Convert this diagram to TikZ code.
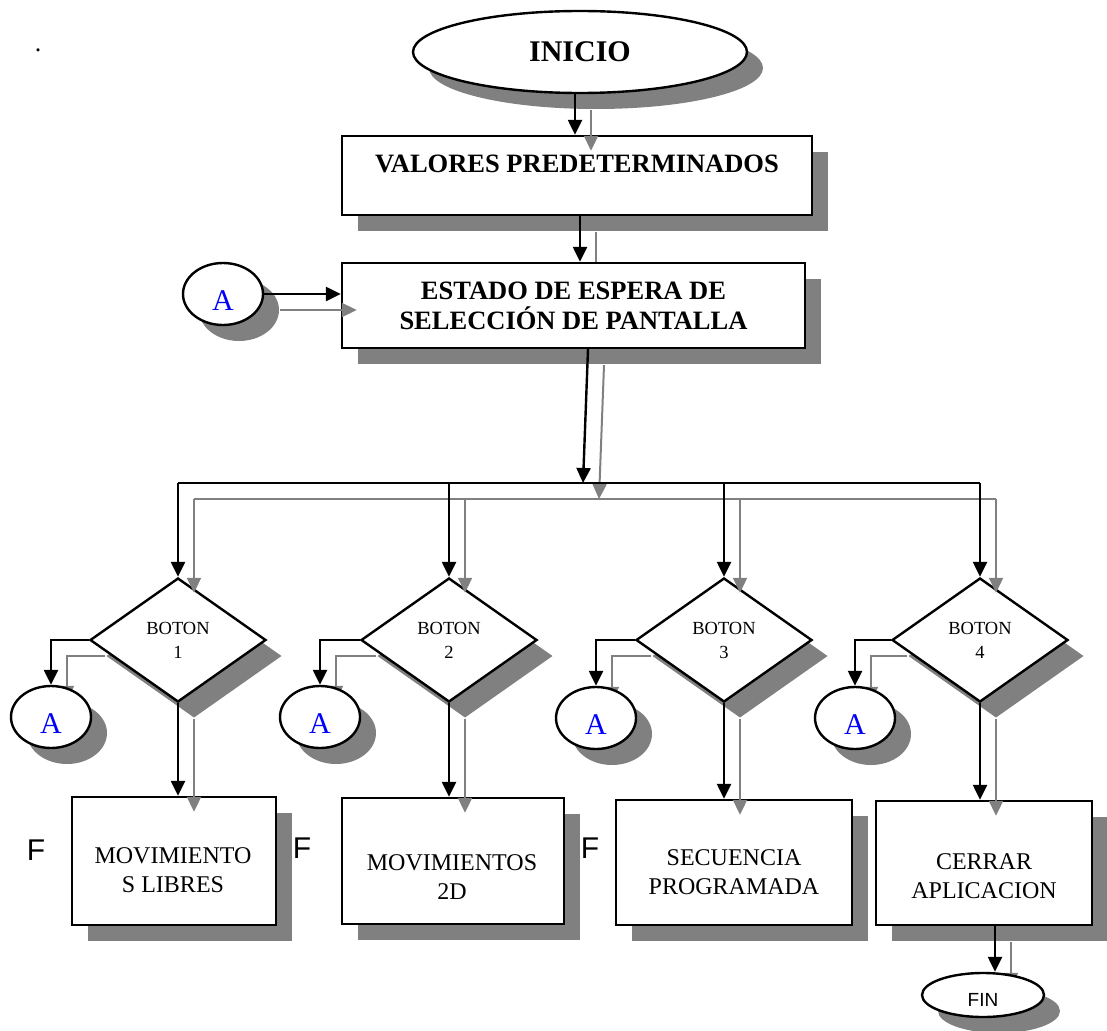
\documentclass[tikz,border=0pt]{standalone}
\usepackage{fontspec}
\setmainfont{Liberation Serif}
\newfontfamily\arialf{Liberation Sans}
\usetikzlibrary{shapes.geometric,shadows,arrows.meta,backgrounds}
\definecolor{shd}{RGB}{128,128,128}
\definecolor{ablue}{RGB}{0,0,255}
\tikzset{
  shad/.style={drop shadow={shadow xshift=16pt,shadow yshift=-16pt,fill=shd,opacity=1,draw=none}},
  shapebase/.style={draw=black,line width=2.4pt,fill=white,inner sep=0pt,shad},
  boxnode/.style={shapebase,rectangle},
  ovalnode/.style={shapebase,ellipse},
  decision/.style={shapebase,diamond,minimum width=176pt,minimum height=124pt,align=center,font=\fontsize{18.5}{24}\selectfont},
  conn/.style={ovalnode,minimum width=80pt,minimum height=62pt,text=ablue,font=\fontsize{30}{36}\selectfont,text height=32pt,text depth=0pt},
  blk/.style={draw=black,line width=2.4pt,-{Triangle[width=14pt,length=15pt]}},
  blkline/.style={draw=black,line width=2.4pt},
  gry/.style={draw=shd,line width=2pt,-{Triangle[width=14pt,length=15pt]},transform canvas={shift={(16pt,-16pt)}}},
  gryline/.style={draw=shd,line width=2pt,transform canvas={shift={(16pt,-16pt)}}},
  boxtext/.style={align=center,font=\fontsize{24}{29}\selectfont,inner sep=0pt},
  boldtext/.style={align=center,font=\bfseries\fontsize{26.5}{30}\selectfont,inner sep=0pt},
  ftext/.style={font=\arialf\fontsize{30}{36}\selectfont,inner sep=0pt},
}
\begin{document}
\begin{tikzpicture}[x=1pt,y=-1pt]
\useasboundingbox (0,0) rectangle (1107,1030);

% ---------- shapes ----------
\node[ovalnode,minimum width=334pt,minimum height=82pt,font=\bfseries\fontsize{30}{36}\selectfont] (inicio) at (580,52) {INICIO};
\node[boxnode,minimum width=470pt,minimum height=79pt] (valores) at (577,175.5) {};
\node[boxnode,minimum width=463pt,minimum height=85pt,align=center,font=\bfseries\fontsize{26.5}{30}\selectfont] (estado) at (573.5,305.5) {ESTADO DE ESPERA DE\\SELECCIÓN DE PANTALLA};
\node[conn] (a0) at (223,294) {A};

\node[decision] (d1) at (178,640) {BOTON\\1};
\node[decision] (d2) at (449,640) {BOTON\\2};
\node[decision] (d3) at (724,640) {BOTON\\3};
\node[decision] (d4) at (980,640) {BOTON\\4};

\node[conn] (a1) at (51,717) {A};
\node[conn] (a2) at (320,717) {A};
\node[conn] (a3) at (596,718) {A};
\node[conn] (a4) at (855,718) {A};

\node[boxnode,minimum width=204pt,minimum height=128pt] (b1) at (174,861) {};
\node[boxnode,minimum width=222pt,minimum height=126pt] (b2) at (453,861) {};
\node[boxnode,minimum width=236pt,minimum height=125pt] (b3) at (734,862.5) {};
\node[boxnode,minimum width=216pt,minimum height=124pt] (b4) at (984,863) {};

\node[ovalnode,minimum width=122pt,minimum height=44pt,font=\arialf\fontsize{19}{23}\selectfont,text height=23.6pt,text depth=0pt] (fin) at (983,995) {FIN};

% ---------- texts ----------
\node[font=\fontsize{26}{30}\selectfont,inner sep=0pt] (dot) at (38,50) {.};
\node[boldtext] (tv) at (577,164) {VALORES PREDETERMINADOS};
\node[boxtext] (t1) at (173,870.5) {MOVIMIENTO\\S LIBRES};
\node[boxtext] (t2) at (452,877) {MOVIMIENTOS\\2D};
\node[boxtext] (t3) at (734,872.5) {SECUENCIA\\PROGRAMADA};
\node[boxtext] (t4) at (984,876.5) {CERRAR\\APLICACION};
\node[ftext] (f1) at (36,850) {F};
\node[ftext] (f2) at (302,848) {F};
\node[ftext] (f3) at (590,848) {F};

% ---------- coordinates ----------
\coordinate (p1) at ([xshift=-5pt]inicio.south);
\coordinate (p2) at ([xshift=3pt]valores.south);
\coordinate (p3) at ([xshift=14.5pt]estado.south);
\coordinate (m) at (583,483);
\coordinate (j1) at (178,483);
\coordinate (j2) at (449,483);
\coordinate (j3) at (724,483);
\coordinate (j4) at (980,483);
\coordinate (p4) at ([xshift=11pt]b4.south);

% ---------- hidden shadow connectors ----------
\begin{pgfonlayer}{background}
\draw[gry] (p2) -- (p2 |- estado.north);
\draw[gry] (d1.west) -| (a1.north);
\draw[gry] (d2.west) -| (a2.north);
\draw[gry] (d3.west) -| (a3.north);
\draw[gry] (d4.west) -| (a4.north);
\draw[gry] (p4) -- (p4 |- fin.north);
\end{pgfonlayer}

% ---------- visible shadow connectors ----------
\draw[gry] (p1) -- (p1 |- valores.north);
\draw[gry] (a0.east) -- (a0.east -| estado.west);
\draw[gry] (p3) -- (m);
\draw[gryline] (j1) -- (j4);
\draw[gry] (j1) -- (d1.north);
\draw[gry] (j2) -- (d2.north);
\draw[gry] (j3) -- (d3.north);
\draw[gry] (j4) -- (d4.north);
\draw[gry] (d1.south) -- (d1.south |- b1.north);
\draw[gry] (d2.south) -- (d2.south |- b2.north);
\draw[gry] (d3.south) -- (d3.south |- b3.north);
\draw[gry] (d4.south) -- (d4.south |- b4.north);

% ---------- black connectors ----------
\draw[blk] (p1) -- (p1 |- valores.north);
\draw[blk] (p2) -- (p2 |- estado.north);
\draw[blk] (a0.east) -- (a0.east -| estado.west);
\draw[blk] (p3) -- (m);
\draw[blkline] (j1) -- (j4);
\draw[blk] (j1) -- (d1.north);
\draw[blk] (j2) -- (d2.north);
\draw[blk] (j3) -- (d3.north);
\draw[blk] (j4) -- (d4.north);
\draw[blk] (d1.west) -| (a1.north);
\draw[blk] (d2.west) -| (a2.north);
\draw[blk] (d3.west) -| (a3.north);
\draw[blk] (d4.west) -| (a4.north);
\draw[blk] (d1.south) -- (d1.south |- b1.north);
\draw[blk] (d2.south) -- (d2.south |- b2.north);
\draw[blk] (d3.south) -- (d3.south |- b3.north);
\draw[blk] (d4.south) -- (d4.south |- b4.north);
\draw[blk] (p4) -- (p4 |- fin.north);
\end{tikzpicture}
\end{document}
